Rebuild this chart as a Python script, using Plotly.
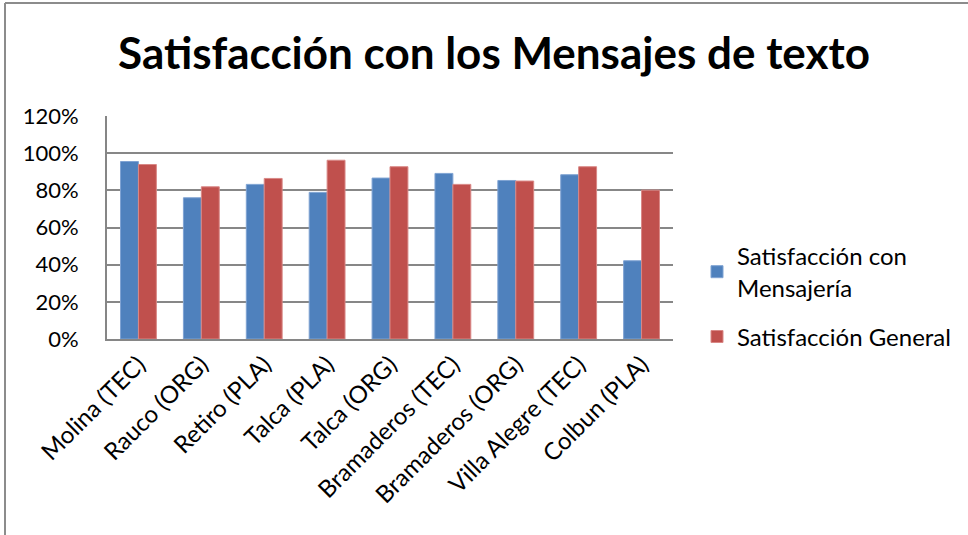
import plotly.graph_objects as go

categories = ["Molina (TEC)", "Rauco (ORG)", "Retiro (PLA)", "Talca (PLA)", "Talca (ORG)",
              "Bramaderos (TEC)", "Bramaderos (ORG)", "Villa Alegre (TEC)", "Colbun (PLA)"]
mensajeria = [0.955, 0.760, 0.832, 0.789, 0.866, 0.891, 0.853, 0.884, 0.421]
general = [0.939, 0.819, 0.864, 0.962, 0.927, 0.832, 0.850, 0.927, 0.801]
series_names = ["Satisfacción con<br>Mensajería", "Satisfacción General"]
y_ticks = [0, 0.2, 0.4, 0.6, 0.8, 1.0, 1.2]
y_tick_labels = ["0%", "20%", "40%", "60%", "80%", "100%", "120%"]

FONT = "Lato"
fig = go.Figure()
fig.add_trace(go.Bar(x=categories, y=mensajeria, name=series_names[0], legendgroup="g1",
                     marker=dict(color="#4F81BD", line=dict(color="#7FA3D3", width=1))))
fig.add_trace(go.Bar(x=categories, y=general, name=series_names[1], legendgroup="g2",
                     marker=dict(color="#C0504D", line=dict(color="#D98886", width=1))))

L, R, T, B = 107, 968 - 673, 116, 535 - 339
W, H = 968, 535
pw, ph = W - L - R, H - T - B

def px(xp):
    return (xp - L) / pw

def py(yp):
    return (H - B - yp) / ph

fig.update_layout(
    width=W, height=H,
    margin=dict(l=L, r=R, t=T, b=B, autoexpand=False),
    paper_bgcolor="white", plot_bgcolor="white",
    barmode="group", bargap=0.43, bargroupgap=0,
    font=dict(family=FONT, color="black", size=22),
    title=dict(text="<b>Satisfacción con los Mensajes de texto</b>",
               x=494 / W, xanchor="center", y=1 - 54 / H, yanchor="middle",
               font=dict(family=FONT, size=44, color="black")),
    showlegend=True,
    legend=dict(x=px(697), xanchor="left", y=py(234), yanchor="top",
                font=dict(family=FONT, size=24, color="black"),
                tracegroupgap=15, itemwidth=30, bgcolor="rgba(0,0,0,0)"),
    xaxis=dict(tickangle=-45, showline=True, linecolor="#868686", linewidth=2,
               showgrid=False, ticks="", tickfont=dict(size=24), fixedrange=True),
    yaxis=dict(range=[0, 1.2], tickvals=y_ticks, ticktext=y_tick_labels,
               showgrid=True, gridcolor="#878787", gridwidth=2,
               showline=True, linecolor="#868686", linewidth=2,
               ticks="", ticklabelstandoff=22, tickfont=dict(size=22),
               zeroline=False, fixedrange=True),
    shapes=[
        dict(type="line", xref="paper", yref="paper", x0=px(5), x1=px(5), y0=py(3), y1=py(540),
             line=dict(color="#8C8C8C", width=2)),
        dict(type="line", xref="paper", yref="paper", x0=px(5), x1=px(975), y0=py(3), y1=py(3),
             line=dict(color="#8C8C8C", width=2)),
    ],
)

fig.write_html("out.html", config={"displayModeBar": False},
               post_script="document.body.style.margin='0';")
